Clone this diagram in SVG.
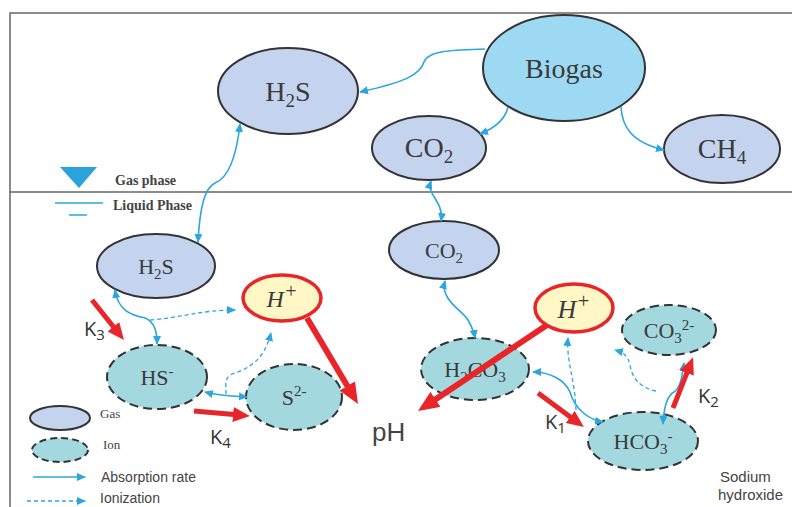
<svg xmlns="http://www.w3.org/2000/svg" width="792" height="507" viewBox="0 0 792 507">
<style>
.gas{fill:#C4D4EE;stroke:#333;stroke-width:2}
.ion{fill:#A3D8DF;stroke:#333;stroke-width:2;stroke-dasharray:9,5}
.hp{fill:#FFF8C6;stroke:#E8262A;stroke-width:3.5}
.bio{fill:#9ED9F4;stroke:#333;stroke-width:2}
.lbl{font-family:"Liberation Serif",serif;fill:#3a3a3a;text-anchor:middle}
.it{font-family:"Liberation Serif",serif;font-style:italic;fill:#3a3a3a;text-anchor:middle}
.sans{font-family:"Liberation Sans",Arial,sans-serif;fill:#444}
.k{font-family:"Open Sans","Liberation Sans",sans-serif;fill:#333;font-size:20px}
.leg{font-family:"Liberation Serif",serif;fill:#444;font-weight:bold;font-size:14px}
.blue{fill:none;stroke:#2BA6DE;stroke-width:1.6}
.dash{fill:none;stroke:#2BA6DE;stroke-width:1.3;stroke-dasharray:4,3}
.red{stroke:#E8262A;stroke-width:5;fill:none}
.redt{stroke:#E8262A;stroke-width:6;fill:none}
</style>
<defs>
<marker id="ba" markerUnits="userSpaceOnUse" markerWidth="9" markerHeight="8" refX="8" refY="4" orient="auto-start-reverse" viewBox="0 0 9 8"><path d="M0,0 L9,4 L0,8 z" fill="#2BA6DE"/></marker>
<marker id="ra" markerUnits="userSpaceOnUse" markerWidth="17" markerHeight="15" refX="1" refY="7.5" orient="auto" viewBox="0 0 17 15"><path d="M0,0 L17,7.5 L0,15 z" fill="#E8262A"/></marker>
<marker id="rb" markerUnits="userSpaceOnUse" markerWidth="21" markerHeight="18" refX="1" refY="9" orient="auto" viewBox="0 0 21 18"><path d="M0,0 L21,9 L0,18 z" fill="#E8262A"/></marker>
</defs>
<rect width="792" height="507" fill="#fff"/>
<g id="frame" fill="none" stroke="#666" stroke-width="1.5">
<path d="M10,507 L10,13 L792,13"/>
<line x1="10" y1="192" x2="792" y2="192"/>
</g>
<g id="biogas"><ellipse class="bio" cx="564" cy="68" rx="81" ry="53"/><text class="lbl" x="564" y="78" font-size="28">Biogas</text></g>
<g id="h2s-gas"><ellipse class="gas" cx="288" cy="91" rx="70" ry="43"/><text class="lbl" x="288" y="101" font-size="28">H<tspan font-size="19" dy="6">2</tspan><tspan dy="-6">S</tspan></text></g>
<g id="co2-gas"><ellipse class="gas" cx="429" cy="148" rx="57" ry="32"/><text class="lbl" x="429" y="157" font-size="28">CO<tspan font-size="19" dy="6">2</tspan></text></g>
<g id="ch4-gas"><ellipse class="gas" cx="722" cy="149" rx="58" ry="34"/><text class="lbl" x="722" y="158" font-size="28">CH<tspan font-size="19" dy="6">4</tspan></text></g>
<g id="h2s-liq"><ellipse class="gas" cx="156" cy="266" rx="59" ry="32"/><text class="lbl" x="156" y="274" font-size="22">H<tspan font-size="15" dy="5">2</tspan><tspan dy="-5">S</tspan></text></g>
<g id="co2-liq"><ellipse class="gas" cx="444" cy="250" rx="55" ry="29"/><text class="lbl" x="444" y="258" font-size="22">CO<tspan font-size="15" dy="5">2</tspan></text></g>
<g id="hplus-left"><ellipse class="hp" cx="282" cy="298" rx="39" ry="23"/><text class="it" x="282" y="307" font-size="24">H<tspan font-size="20" dy="-9">+</tspan></text></g>
<g id="hplus-right"><ellipse class="hp" cx="574" cy="308" rx="39" ry="24"/><text class="it" x="574" y="318" font-size="26">H<tspan font-size="21" dy="-10">+</tspan></text></g>
<g id="hs"><ellipse class="ion" cx="157" cy="377" rx="50" ry="32"/><text class="lbl" x="157" y="385" font-size="22">HS<tspan font-size="15" dy="-9">-</tspan></text></g>
<g id="s2"><ellipse class="ion" cx="294" cy="397" rx="48" ry="33"/><text class="lbl" x="294" y="405" font-size="22">S<tspan font-size="15" dy="-9">2-</tspan></text></g>
<g id="h2co3"><ellipse class="ion" cx="475" cy="369" rx="54" ry="31"/><text class="lbl" x="475" y="377" font-size="22">H<tspan font-size="15" dy="5">2</tspan><tspan dy="-5">CO</tspan><tspan font-size="15" dy="5">3</tspan></text></g>
<g id="hco3"><ellipse class="ion" cx="643" cy="441" rx="55" ry="29"/><text class="lbl" x="643" y="449" font-size="22">HCO<tspan font-size="15" dy="5">3</tspan><tspan font-size="15" dy="-13">-</tspan></text></g>
<g id="co3"><ellipse class="ion" cx="669" cy="330" rx="47" ry="25"/><text class="lbl" x="669" y="338" font-size="22">CO<tspan font-size="15" dy="5">3</tspan><tspan font-size="15" dy="-13">2-</tspan></text></g>
<g id="ph"><text class="sans" x="372" y="441" font-size="26" fill="#555">pH</text></g>
<g id="connectors">
<path class="blue" d="M485,49 C455,50 428,50 424,62 C420,75 405,82 360,92" marker-end="url(#ba)"/>
<path class="blue" d="M508,107 C505,120 495,128 480,134" marker-end="url(#ba)"/>
<path class="blue" d="M621,107 C622,125 630,142 664,150" marker-end="url(#ba)"/>
<path class="blue" d="M240,124 C236,160 228,178 215,183 C205,188 200,205 198,242" marker-start="url(#ba)" marker-end="url(#ba)"/>
<path class="blue" d="M431,181 C426,196 444,200 441,221" marker-start="url(#ba)" marker-end="url(#ba)"/>
<path class="blue" d="M445,281 C440,300 462,310 468,320 C472,327 474,332 475,338" marker-start="url(#ba)" marker-end="url(#ba)"/>
<path class="blue" d="M115,290 C118,310 130,315 145,318 C155,322 157,332 157,344" marker-start="url(#ba)" marker-end="url(#ba)"/>
<path class="dash" d="M150,320 C180,318 200,310 235,310" marker-end="url(#ba)"/>
<path class="blue" d="M205,392 C220,396 232,396 247,397" marker-start="url(#ba)" marker-end="url(#ba)"/>
<path class="dash" d="M226,394 C226,385 224,378 232,374 C250,368 264,360 271,333" marker-end="url(#ba)"/>
<path class="blue" d="M533,372 C550,372 565,380 570,392 C575,410 590,420 603,422" marker-start="url(#ba)" marker-end="url(#ba)"/>
<path class="dash" d="M576,410 C575,380 566,360 568,338" marker-end="url(#ba)"/>
<path class="dash" d="M656,391 C640,388 632,378 630,365 C628,355 622,352 615,350" marker-end="url(#ba)"/>
<path class="blue" d="M663,424 C664,405 668,395 674,392 C680,388 682,378 684,363" marker-start="url(#ba)" marker-end="url(#ba)"/>
<line class="red" x1="92" y1="300" x2="114" y2="327.5" marker-end="url(#ra)"/>
<line class="red" x1="194" y1="411" x2="234" y2="414.6" marker-end="url(#ra)"/>
<line class="redt" x1="307" y1="318" x2="347.8" y2="386.8" marker-end="url(#rb)"/>
<line class="redt" x1="547" y1="325" x2="434.6" y2="399.9" marker-end="url(#rb)"/>
<line class="red" x1="538" y1="393" x2="571" y2="417.5" marker-end="url(#ra)"/>
<line class="red" x1="673" y1="408" x2="687.2" y2="372.1" marker-end="url(#ra)"/>
</g>
<g id="klabels">
<text class="k" x="84" y="336">K<tspan font-size="15" dy="4">3</tspan></text>
<text class="k" x="210" y="444">K<tspan font-size="15" dy="4">4</tspan></text>
<text class="k" x="545" y="429">K<tspan font-size="15" dy="4">1</tspan></text>
<text class="k" x="698" y="403">K<tspan font-size="15" dy="4">2</tspan></text>
</g>
<g id="legend">
<polygon points="60,167 97,167 79,188" fill="#2AA3DA"/>
<text class="leg" x="115" y="185">Gas phase</text>
<line x1="55" y1="203" x2="103" y2="203" stroke="#2BA6DE" stroke-width="1.5"/>
<line x1="69" y1="215" x2="87" y2="215" stroke="#2BA6DE" stroke-width="1.5"/>
<text class="leg" x="113" y="210">Liquid Phase</text>
<ellipse class="gas" cx="60" cy="418" rx="30" ry="12"/>
<text x="100" y="418" font-family="Liberation Serif,serif" font-size="13" fill="#444">Gas</text>
<ellipse class="ion" cx="60" cy="450" rx="28" ry="12" style="stroke-dasharray:7,4"/>
<text x="103" y="449" font-family="Liberation Serif,serif" font-size="13" fill="#444">Ion</text>
<line class="blue" x1="33" y1="477" x2="85" y2="477" marker-end="url(#ba)"/>
<text class="sans" x="101" y="482" font-size="14">Absorption rate</text>
<line class="dash" x1="27" y1="501" x2="85" y2="501" marker-end="url(#ba)"/>
<text class="sans" x="100" y="503" font-size="14">Ionization</text>
<text class="sans" x="720" y="482" font-size="15" fill="#333">Sodium</text>
<text class="sans" x="718" y="500" font-size="15" fill="#333">hydroxide</text>
</g>
</svg>
